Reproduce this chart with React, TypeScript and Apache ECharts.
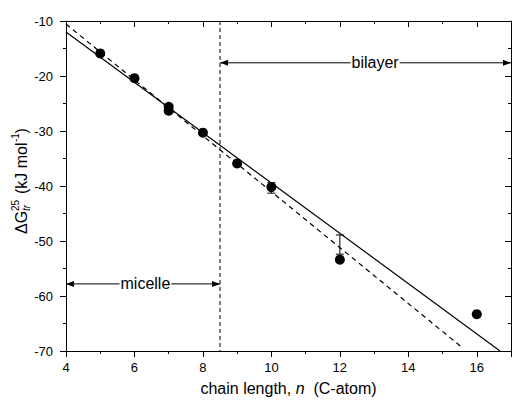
import React, { useEffect, useRef } from 'react';
import * as echarts from 'echarts';

// ---- data ----
const chainLength = [5, 6, 7, 7, 8, 9, 10, 12, 16];
const deltaG = [-15.9, -20.4, -25.6, -26.3, -30.3, -35.9, -40.2, -53.4, -63.3];

const errorX = [10, 12];
const errorLow = [-41.3, -52.4];
const errorHigh = [-39.4, -48.9];

const solidFitX = [4, 16.68];
const solidFitY = [-12.0, -70];
const dashedFitX = [4, 15.6];
const dashedFitY = [-10.55, -69.5];

const boundaryX = 8.5;
const boundaryY = [-10, -70];

const regionLabels = ['micelle', 'bilayer'];
const regionStart = [4, 8.5];
const regionEnd = [8.5, 17];
const regionY = [-57.8, -17.6];
const regionLabelX = [6.32, 13.03];

const FONT = '"Liberation Sans", Arial, Helvetica, sans-serif';

export default function App() {
  const ref = useRef<HTMLDivElement>(null);

  useEffect(() => {
    if (!ref.current) return;
    const chart = echarts.init(ref.current, undefined, { renderer: 'svg' });
    const black = { color: '#000', width: 1 };

    const baseX = {
      type: 'value',
      min: 4,
      max: 17,
      interval: 2,
      splitLine: { show: false },
      axisLine: { show: true, onZero: false, lineStyle: black },
      minorTick: { show: true, splitNumber: 2, length: 3, lineStyle: black },
    };
    const baseY = {
      type: 'value',
      min: -70,
      max: -10,
      interval: 10,
      splitLine: { show: false },
      axisLine: { show: true, onZero: false, lineStyle: black },
      minorTick: { show: true, splitNumber: 2, length: 3, lineStyle: black },
    };

    const option: any = {
      animation: false,
      backgroundColor: '#fff',
      grid: { left: 66, right: 1, top: 21, bottom: 51, containLabel: false },
      xAxis: [
        {
          ...baseX,
          position: 'bottom',
          axisTick: { show: true, inside: false, length: 6, lineStyle: black },
          axisLabel: {
            color: '#000',
            fontSize: 13,
            fontFamily: FONT,
            margin: 10,
            formatter: (v: number) => (v === 17 ? '' : String(v)),
          },
          name: '{a|chain length, }{i|n}{a|  (C-atom)}',
          nameLocation: 'middle',
          nameGap: 29,
          nameTextStyle: {
            color: '#000',
            fontSize: 16,
            fontFamily: FONT,
            rich: {
              a: { color: '#000', fontSize: 16, fontFamily: FONT },
              i: { color: '#000', fontSize: 16, fontFamily: FONT, fontStyle: 'italic' },
            },
          },
        },
        {
          ...baseX,
          position: 'top',
          axisTick: { show: true, inside: true, length: 6, lineStyle: black },
          minorTick: { show: true, splitNumber: 2, length: 3, lineStyle: black },
          axisLabel: { show: false },
        },
      ],
      yAxis: [
        {
          ...baseY,
          position: 'left',
          axisTick: { show: true, inside: false, length: 6, lineStyle: black },
          axisLabel: { color: '#000', fontSize: 13, fontFamily: FONT, margin: 13 },
        },
        {
          ...baseY,
          position: 'right',
          axisTick: { show: true, inside: true, length: 6, lineStyle: black },
          axisLabel: { show: false },
        },
      ],
      graphic: [
        {
          type: 'group',
          x: 21,
          y: 234,
          rotation: Math.PI / 2,
          children: [
            { type: 'text', x: 0, y: 0, style: { text: 'ΔG', font: `16px ${FONT}`, fill: '#000', align: 'left', verticalAlign: 'middle' } },
            { type: 'text', x: 23, y: -6, style: { text: '25', font: `10px ${FONT}`, fill: '#000', align: 'left', verticalAlign: 'middle' } },
            { type: 'text', x: 23, y: 5, style: { text: 'tr', font: `italic 10px ${FONT}`, fill: '#000', align: 'left', verticalAlign: 'middle' } },
            { type: 'text', x: 40, y: 0, style: { text: '(kJ mol', font: `16px ${FONT}`, fill: '#000', align: 'left', verticalAlign: 'middle' } },
            { type: 'text', x: 92, y: -6, style: { text: '-1', font: `10px ${FONT}`, fill: '#000', align: 'left', verticalAlign: 'middle' } },
            { type: 'text', x: 100.5, y: 0, style: { text: ')', font: `16px ${FONT}`, fill: '#000', align: 'left', verticalAlign: 'middle' } },
          ],
        },
      ],
      series: [
        {
          type: 'line',
          name: 'boundary',
          data: boundaryY.map((y) => [boundaryX, y]),
          showSymbol: false,
          symbol: 'none',
          lineStyle: { color: '#000', width: 1, type: [4, 3] },
          z: 2,
        },
        {
          type: 'line',
          name: 'solid fit',
          data: solidFitX.map((x, i) => [x, solidFitY[i]]),
          showSymbol: false,
          symbol: 'none',
          lineStyle: { color: '#000', width: 1.2 },
          z: 2,
        },
        {
          type: 'line',
          name: 'dashed fit',
          data: dashedFitX.map((x, i) => [x, dashedFitY[i]]),
          showSymbol: false,
          symbol: 'none',
          lineStyle: { color: '#000', width: 1.2, type: [5, 4] },
          z: 2,
        },
        {
          type: 'custom',
          name: 'error bars',
          data: errorX.map((x, i) => [x, errorLow[i], errorHigh[i]]),
          renderItem: (params: any, api: any) => {
            const top = api.coord([api.value(0), api.value(2)]);
            const bot = api.coord([api.value(0), api.value(1)]);
            const w = 4;
            const st = { stroke: '#000', lineWidth: 1 };
            return {
              type: 'group',
              children: [
                { type: 'line', shape: { x1: top[0], y1: top[1], x2: bot[0], y2: bot[1] }, style: st },
                { type: 'line', shape: { x1: top[0] - w, y1: top[1], x2: top[0] + w, y2: top[1] }, style: st },
                { type: 'line', shape: { x1: bot[0] - w, y1: bot[1], x2: bot[0] + w, y2: bot[1] }, style: st },
              ],
            };
          },
          z: 3,
        },
        {
          type: 'scatter',
          name: 'data',
          data: chainLength.map((x, i) => [x, deltaG[i]]),
          symbol: 'circle',
          symbolSize: 10,
          itemStyle: { color: '#000', opacity: 1 },
          z: 4,
        },
        {
          type: 'custom',
          name: 'regions',
          data: regionStart.map((s, i) => [s, regionEnd[i], regionY[i], regionLabelX[i]]),
          renderItem: (params: any, api: any) => {
            const i = params.dataIndex;
            const s = api.coord([api.value(0), api.value(2)]);
            const e = api.coord([api.value(1), api.value(2)]);
            const c = api.coord([api.value(3), api.value(2)]);
            const L = 8;
            const W = 3;
            return {
              type: 'group',
              children: [
                { type: 'line', shape: { x1: s[0], y1: s[1], x2: e[0], y2: e[1] }, style: { stroke: '#000', lineWidth: 1 } },
                { type: 'polygon', shape: { points: [[s[0], s[1]], [s[0] + L, s[1] - W], [s[0] + L, s[1] + W]] }, style: { fill: '#000' } },
                { type: 'polygon', shape: { points: [[e[0], e[1]], [e[0] - L, e[1] - W], [e[0] - L, e[1] + W]] }, style: { fill: '#000' } },
                {
                  type: 'text',
                  x: c[0],
                  y: c[1],
                  style: {
                    text: regionLabels[i],
                    font: `16px ${FONT}`,
                    fill: '#000',
                    align: 'center',
                    verticalAlign: 'middle',
                    backgroundColor: '#fff',
                    padding: [0, 1],
                  },
                },
              ],
            };
          },
          z: 5,
        },
      ],
    };

    chart.setOption(option);
    return () => chart.dispose();
  }, []);

  return (
    <div
      ref={ref}
      style={{ position: 'fixed', left: 0, top: 0, width: 514, height: 402, background: '#fff' }}
    />
  );
}
